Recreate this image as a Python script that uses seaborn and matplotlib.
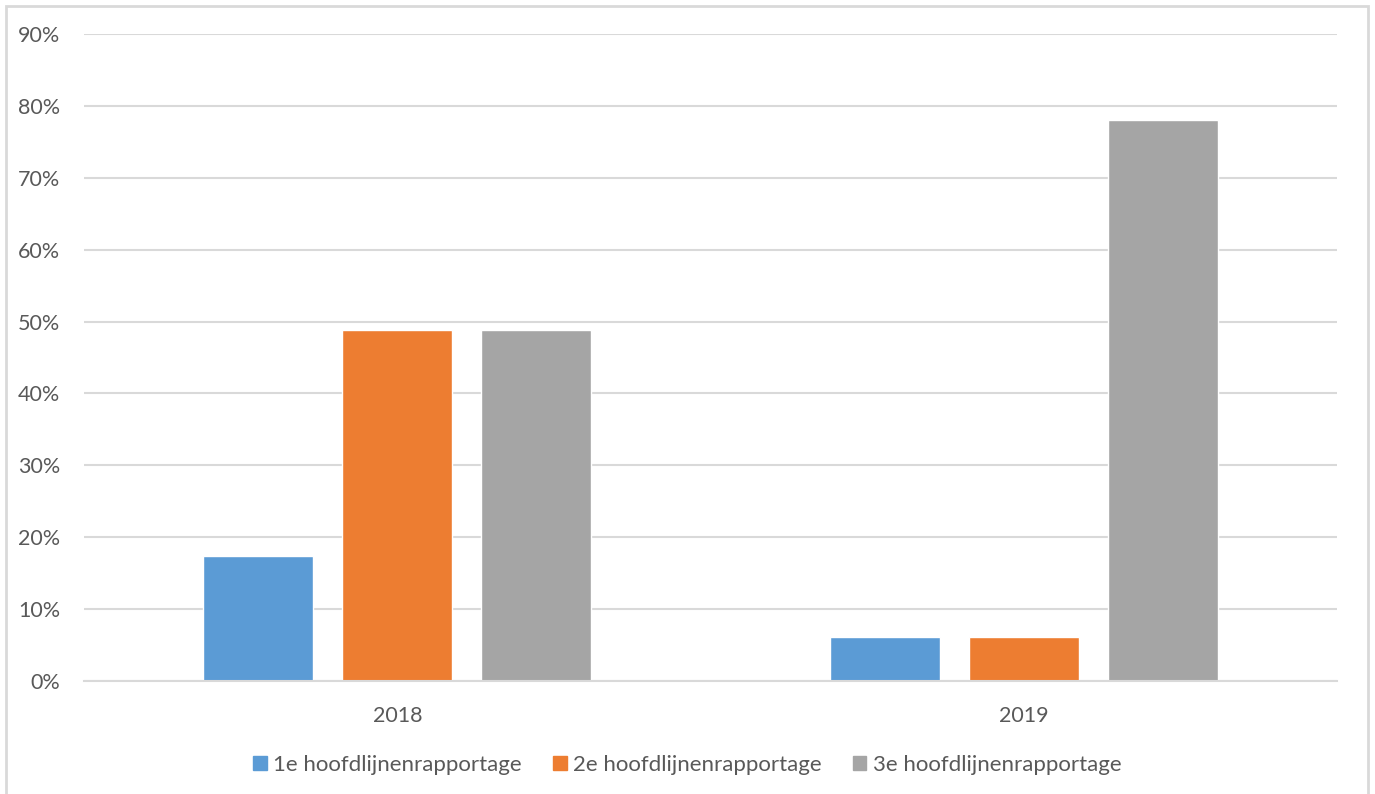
import matplotlib
matplotlib.use('Agg')
import matplotlib.pyplot as plt
import matplotlib.patches as mpatches
import seaborn as sns
import pandas as pd
from matplotlib.ticker import FuncFormatter, MultipleLocator

years = ['2018', '2019']
series = ['1e hoofdlijnenrapportage', '2e hoofdlijnenrapportage', '3e hoofdlijnenrapportage']
values_1e = [17.4, 6.1]
values_2e = [48.8, 6.1]
values_3e = [48.8, 78.0]
colors = ['#5b9bd5', '#ed7d31', '#a5a5a5']

df = pd.DataFrame({
    'Jaar': years * 3,
    'Reeks': [s for s in series for _ in years],
    'Waarde': values_1e + values_2e + values_3e,
})

sns.set_style('white')
plt.rcParams['font.family'] = ['Lato', 'DejaVu Sans']
text_color = '#595959'
grid_color = '#d9d9d9'

fig = plt.figure(figsize=(13.75, 7.94), dpi=100)
ax = fig.add_axes([84 / 1375, 1 - 681 / 794, (1337 - 84) / 1375, (681 - 34) / 794])

sns.barplot(data=df, x='Jaar', y='Waarde', hue='Reeks', order=years, hue_order=series,
            palette=colors, width=0.666, gap=0.21, saturation=1, ax=ax, legend=False)

ax.set_ylim(0, 90)
ax.yaxis.set_major_locator(MultipleLocator(10))
ax.yaxis.set_major_formatter(FuncFormatter(lambda v, _: f"{v:.0f}%"))
ax.grid(axis='y', color=grid_color, lw=1.5, zorder=0)
ax.set_axisbelow(True)
for s in ['top', 'right', 'left']:
    ax.spines[s].set_visible(False)
ax.spines['bottom'].set_color(grid_color)
ax.spines['bottom'].set_linewidth(1.5)
ax.set_xlabel('')
ax.set_ylabel('')
ax.tick_params(axis='both', length=0, labelsize=15.5, labelcolor=text_color)
ax.tick_params(axis='y', pad=17)
ax.tick_params(axis='x', pad=18)

handles = [mpatches.Patch(color=c, label=s) for c, s in zip(colors, series)]
fig.legend(handles=handles, loc='center', bbox_to_anchor=(0.5, 1 - 765 / 794), ncol=3,
           frameon=False, fontsize=16, labelcolor=text_color, handlelength=0.6,
           handleheight=0.6, handletextpad=0.3, columnspacing=1.4)

fig.patches.append(mpatches.Rectangle((6 / 1375, -0.01), (1368 - 6) / 1375, 1.01 - 6 / 794,
                                      transform=fig.transFigure, fill=False,
                                      edgecolor=grid_color, lw=2))

fig.savefig('out.png', dpi=100)
